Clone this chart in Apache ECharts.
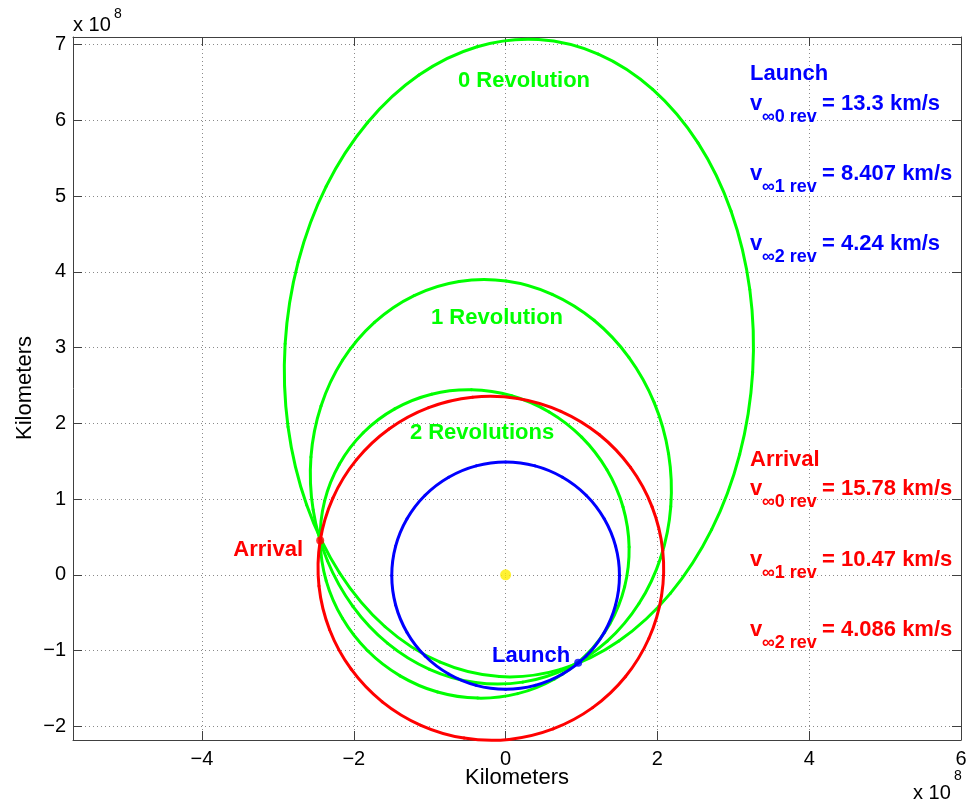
<!DOCTYPE html>
<html>
<head>
<meta charset="utf-8">
<script src="https://cdn.jsdelivr.net/npm/echarts@6/dist/echarts.min.js"></script>
<style>html,body{margin:0;padding:0;background:#fff}#c{width:966px;height:803px}</style>
</head>
<body>
<div id="c"></div>
<script>
// ---- data (units of 1e8 km) ----
const xRange = [-5.70, 6.0];
const yRange = [-2.18, 7.10];
const axisTitle = 'Kilometers';
const scaleLabel = ['x 10', '8'];
const revLabels = ['0 Revolution', '1 Revolution', '2 Revolutions'];
const launchVinf = ['13.3', '8.407', '4.24'];
const arrivalVinf = ['15.78', '10.47', '4.086'];
const sunPos = [[0, 0]];
const launchPt = [[0.956, -1.16]];
const arrivalPt = [[-2.443, 0.453]];
// closed orbits: points listed once around the loop (the curve closes back to the first point)
const earthOrbit = [[1.5,-0.01],[1.449,0.378],[1.299,0.74],[1.061,1.051],[0.75,1.289],[0.388,1.439],[0,1.49],[-0.388,1.439],[-0.75,1.289],[-1.061,1.051],[-1.299,0.74],[-1.449,0.378],[-1.5,-0.01],[-1.449,-0.398],[-1.299,-0.76],[-1.061,-1.071],[-0.75,-1.309],[-0.388,-1.459],[0,-1.51],[0.388,-1.459],[0.75,-1.309],[1.061,-1.071],[1.299,-0.76],[1.449,-0.398]];
const marsOrbit = [[1.887,-0.840],[2.055,-0.272],[2.070,0.320],[1.930,0.897],[1.646,1.418],[1.236,1.849],[0.728,2.159],[0.158,2.329],[-0.436,2.345],[-1.014,2.208],[-1.536,1.926],[-1.967,1.518],[-2.276,1.014],[-2.444,0.446],[-2.459,-0.147],[-2.319,-0.724],[-2.035,-1.245],[-1.625,-1.676],[-1.117,-1.986],[-0.547,-2.155],[0.047,-2.172],[0.625,-2.034],[1.147,-1.753],[1.578,-1.345]];
const transfer0Rev = [[-0.082,-1.343],[0.724,-1.248],[1.492,-0.873],[2.171,-0.244],[2.714,0.597],[3.084,1.592],[3.255,2.674],[3.217,3.768],[2.971,4.801],[2.535,5.702],[1.938,6.409],[1.221,6.875],[0.432,7.067],[-0.374,6.972],[-1.142,6.598],[-1.821,5.968],[-2.364,5.128],[-2.733,4.132],[-2.905,3.051],[-2.867,1.956],[-2.621,0.923],[-2.185,0.022],[-1.588,-0.685],[-0.870,-1.150]];
const transfer1Rev = [[0.224,-1.416],[0.816,-1.230],[1.339,-0.876],[1.757,-0.379],[2.043,0.227],[2.176,0.902],[2.147,1.599],[1.959,2.271],[1.624,2.872],[1.165,3.361],[0.614,3.704],[0.007,3.879],[-0.613,3.873],[-1.205,3.687],[-1.728,3.333],[-2.147,2.836],[-2.432,2.229],[-2.565,1.555],[-2.536,0.858],[-2.348,0.186],[-2.013,-0.415],[-1.554,-0.904],[-1.003,-1.247],[-0.396,-1.422]];
const transfer2Rev = [[1.060,-1.060],[1.374,-0.645],[1.568,-0.158],[1.627,0.367],[1.547,0.896],[1.333,1.390],[1.002,1.818],[0.574,2.150],[0.079,2.364],[-0.449,2.443],[-0.975,2.385],[-1.461,2.191],[-1.876,1.876],[-2.191,1.461],[-2.385,0.975],[-2.443,0.449],[-2.364,-0.079],[-2.150,-0.574],[-1.818,-1.002],[-1.390,-1.333],[-0.896,-1.547],[-0.367,-1.627],[0.158,-1.568],[0.645,-1.374]];

// ---- styling ----
const FONT = '"Liberation Sans", Arial, Helvetica, sans-serif';
const AXIS = '#404040';
const GREEN = '#00ff00', RED = '#ff0000', BLUE = '#0000ff';

function fmt(v) {
  const r = Math.round(v);
  if (Math.abs(v - r) > 1e-6) return '';
  return r < 0 ? '\u2212' + Math.abs(r) : String(r);
}
function txt(x, y, text, size, color, bold, align, rot) {
  const el = {
    type: 'text', x: x, y: y, z: 100,
    style: {
      text: text,
      font: (bold ? 'bold ' : '') + size + 'px ' + FONT,
      fill: color,
      textAlign: align || 'left',
      textVerticalAlign: 'middle',
      verticalAlign: 'middle'
    }
  };
  if (rot) el.rotation = rot;
  return el;
}
function mkX(pos, main) {
  return {
    type: 'value', gridIndex: 0, position: pos, min: xRange[0], max: xRange[1],
    minInterval: 2, maxInterval: 2, splitNumber: 6,
    axisLine: { show: true, onZero: false, lineStyle: { color: AXIS, width: 1 } },
    axisTick: { show: true, inside: true, length: 9, lineStyle: { color: AXIS } },
    axisLabel: { show: main, formatter: fmt, color: '#000', fontSize: 20, fontFamily: FONT, margin: 9 },
    splitLine: { show: main, lineStyle: { color: '#8a8a8a', type: [1, 3], width: 1 } }
  };
}
function mkY(pos, main) {
  return {
    type: 'value', gridIndex: 0, position: pos, min: yRange[0], max: yRange[1],
    minInterval: 1, maxInterval: 1, splitNumber: 9,
    axisLine: { show: true, onZero: false, lineStyle: { color: AXIS, width: 1 } },
    axisTick: { show: true, inside: true, length: 9, lineStyle: { color: AXIS } },
    axisLabel: { show: main, formatter: fmt, color: '#000', fontSize: 20, fontFamily: FONT, margin: 7 },
    splitLine: { show: main, lineStyle: { color: '#8a8a8a', type: [1, 3], width: 1 } }
  };
}
// closed smooth curve: each data point draws the cubic segment to the next point
// (Catmull-Rom control points from the neighbouring data points, via the axis scales)
function orbit(data, color, z) {
  const n = data.length;
  return {
    type: 'custom', coordinateSystem: 'cartesian2d', xAxisIndex: 0, yAxisIndex: 0,
    data: data, silent: true, z: z, clip: false,
    renderItem: function (params, api) {
      const i = params.dataIndex;
      const p0 = api.coord(data[(i - 1 + n) % n]);
      const p1 = api.coord([api.value(0), api.value(1)]);
      const p2 = api.coord(data[(i + 1) % n]);
      const p3 = api.coord(data[(i + 2) % n]);
      return {
        type: 'bezierCurve',
        shape: {
          x1: p1[0], y1: p1[1], x2: p2[0], y2: p2[1],
          cpx1: p1[0] + (p2[0] - p0[0]) / 6, cpy1: p1[1] + (p2[1] - p0[1]) / 6,
          cpx2: p2[0] - (p3[0] - p1[0]) / 6, cpy2: p2[1] - (p3[1] - p1[1]) / 6
        },
        style: { stroke: color, lineWidth: 3, fill: null, lineCap: 'round' }
      };
    }
  };
}
function dot(data, color, size) {
  return {
    type: 'scatter', xAxisIndex: 0, yAxisIndex: 0, data: data, symbol: 'circle', symbolSize: size,
    silent: true, z: 10, itemStyle: { color: color }
  };
}

const graphics = [];
const revPos = [[524, 81], [497, 318], [482, 433]];
revLabels.forEach((t, i) => graphics.push(txt(revPos[i][0], revPos[i][1], t, 22, GREEN, true, 'center')));
graphics.push(txt(303, 550, 'Arrival', 22, RED, true, 'right'));
graphics.push(txt(492, 656, 'Launch', 22, BLUE, true, 'left'));
graphics.push(txt(750, 74, 'Launch', 22, BLUE, true));
const launchRowY = [104, 174, 244];
launchVinf.forEach((v, i) => {
  graphics.push(txt(750, launchRowY[i], 'v', 22, BLUE, true));
  graphics.push(txt(762, launchRowY[i] + 13, '\u221e' + i + ' rev', 18, BLUE, true));
  graphics.push(txt(822, launchRowY[i], '= ' + v + ' km/s', 22, BLUE, true));
});
graphics.push(txt(750, 460, 'Arrival', 22, RED, true));
const arrivalRowY = [489, 560, 630];
arrivalVinf.forEach((v, i) => {
  graphics.push(txt(750, arrivalRowY[i], 'v', 22, RED, true));
  graphics.push(txt(762, arrivalRowY[i] + 13, '\u221e' + i + ' rev', 18, RED, true));
  graphics.push(txt(822, arrivalRowY[i], '= ' + v + ' km/s', 22, RED, true));
});
graphics.push(txt(517, 778, axisTitle, 22, '#000', false, 'center'));
graphics.push(txt(25, 388, axisTitle, 22, '#000', false, 'center', Math.PI / 2));
graphics.push(txt(73, 25, scaleLabel[0], 20, '#000', false));
graphics.push(txt(114, 14, scaleLabel[1], 14, '#000', false));
graphics.push(txt(913, 793, scaleLabel[0], 20, '#000', false));
graphics.push(txt(954, 776, scaleLabel[1], 14, '#000', false));

const chart = echarts.init(document.getElementById('c'), null, { renderer: 'canvas' });
chart.setOption({
  animation: false,
  backgroundColor: '#ffffff',
  grid: { left: 73, top: 37, width: 888, height: 703, containLabel: false, outerBoundsMode: 'none' },
  xAxis: [mkX('bottom', true), mkX('top', false)],
  yAxis: [mkY('left', true), mkY('right', false)],
  series: [
    orbit(transfer0Rev, GREEN, 2),
    orbit(transfer1Rev, GREEN, 2),
    orbit(transfer2Rev, GREEN, 2),
    orbit(marsOrbit, RED, 3),
    orbit(earthOrbit, BLUE, 3),
    dot(sunPos, '#ffee00', 11),
    dot(launchPt, BLUE, 8),
    dot(arrivalPt, RED, 8)
  ],
  graphic: graphics
});
</script>
</body>
</html>
